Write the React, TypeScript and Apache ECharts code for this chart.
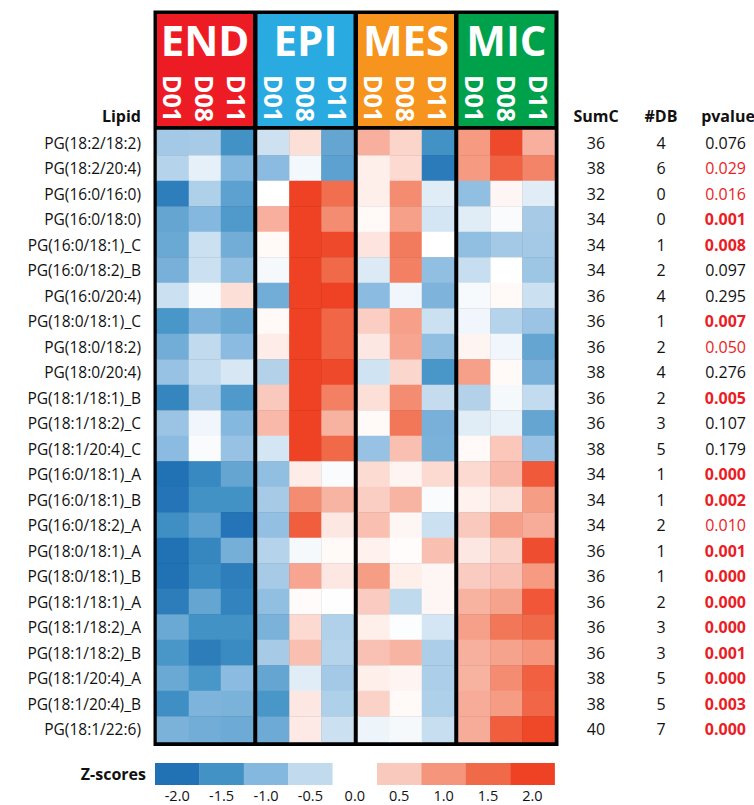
import React, { useEffect, useRef } from "react";
import * as echarts from "echarts";

const lipids = [
  "PG(18:2/18:2)", "PG(18:2/20:4)", "PG(16:0/16:0)", "PG(16:0/18:0)", "PG(16:0/18:1)_C",
  "PG(16:0/18:2)_B", "PG(16:0/20:4)", "PG(18:0/18:1)_C", "PG(18:0/18:2)", "PG(18:0/20:4)",
  "PG(18:1/18:1)_B", "PG(18:1/18:2)_C", "PG(18:1/20:4)_C", "PG(16:0/18:1)_A", "PG(16:0/18:1)_B",
  "PG(16:0/18:2)_A", "PG(18:0/18:1)_A", "PG(18:0/18:1)_B", "PG(18:1/18:1)_A", "PG(18:1/18:2)_A",
  "PG(18:1/18:2)_B", "PG(18:1/20:4)_A", "PG(18:1/20:4)_B", "PG(18:1/22:6)",
];
const groups = ["END", "EPI", "MES", "MIC"];
const groupColors = ["#ed1c24", "#29abe2", "#f7941d", "#00a14b"];
const timepoints = ["D01", "D08", "D11"];

// z-scores per row: [D01, D08, D11]
const endZ = [
  [-0.75, -0.72, -1.5], [-0.6, -0.2, -1.0], [-1.8, -0.65, -1.3], [-1.25, -1.0, -1.4],
  [-1.2, -0.42, -1.15], [-1.1, -0.42, -0.9], [-0.42, -0.05, 0.3], [-1.45, -1.05, -1.2],
  [-1.15, -0.5, -0.95], [-0.85, -0.48, -0.32], [-1.7, -0.72, -1.4], [-0.82, -0.12, -1.0],
  [-0.95, -0.05, -0.85], [-2.0, -1.65, -1.25], [-1.95, -1.5, -1.5], [-1.55, -1.3, -1.95],
  [-2.0, -1.68, -1.12], [-2.0, -1.6, -1.8], [-1.82, -1.25, -1.72], [-1.2, -1.5, -1.5],
  [-1.45, -1.82, -1.6], [-1.2, -1.45, -0.95], [-1.55, -1.05, -1.08], [-1.08, -1.15, -1.18],
];
const epiZ = [
  [-0.4, 0.3, -1.25], [-0.95, -0.1, -1.3], [0, 2, 1.45], [0.75, 2, 1.1],
  [0.05, 2, 1.9], [-0.08, 2, 1.5], [-1.15, 2, 2], [0.05, 2, 1.55],
  [0.18, 2, 1.55], [-0.62, 2, 1.9], [0.5, 2, 1.25], [0.65, 2, 0.72],
  [-0.35, 2, 1.5], [-0.9, 0.18, -0.05], [-0.72, 1.1, 0.7], [-0.88, 1.65, 0.22],
  [-0.6, -0.08, 0.05], [-0.72, 0.85, 0.22], [-0.9, 0.04, 0.01], [-1.08, 0.35, -0.63],
  [-0.72, 0.6, -0.6], [-1.25, -0.25, -0.75], [-1.45, 0.22, -0.65], [-1.18, 0.2, -0.42],
];
const mesZ = [
  [0.75, 0.4, -1.5], [0.15, 0.35, -1.85], [0.15, 1.1, -0.25], [0.05, 0.9, -0.35],
  [0.25, 1.3, 0], [-0.28, 1.25, -0.9], [-0.95, -0.12, -1.05], [0.45, 0.9, -0.42],
  [0.22, 0.85, -0.9], [-0.38, 0.38, -1.45], [0.3, 1.1, -0.47], [0.05, 1.35, -1.1],
  [-0.85, 0.6, -1.08], [0.33, 0.1, 0.35], [0.45, 0.7, -0.05], [0.6, 0.08, -0.42],
  [0.13, 0.03, 0.6], [0.92, 0.15, 0.08], [0.48, -0.52, 0.08], [0.15, -0.03, -0.35],
  [0.58, 0.7, -0.67], [0.15, 0.09, -0.67], [0.42, 0.05, -0.65], [-0.14, -0.08, -0.45],
];
const micZ = [
  [0.95, 1.9, 0.75], [0.95, 1.6, 1.2], [-0.9, 0.08, -0.25], [-0.25, -0.05, -0.72],
  [-0.9, -0.75, -0.75], [-0.45, 0, -0.8], [-0.07, 0.05, -0.42], [-0.12, -0.6, -0.82],
  [0.1, -0.12, -1.25], [0.9, 0.05, -1.1], [-0.62, -0.08, -0.48], [-0.25, -0.17, -1.25],
  [0.05, 0.52, -0.85], [0.35, 0.65, 1.7], [0.13, 0.28, 0.92], [0.5, 0.9, 0.78],
  [0.22, 0.42, 1.85], [0.48, 0.58, 0.95], [0.72, 0.87, 1.75], [0.9, 1.35, 1.5],
  [0.74, 0.87, 1.0], [0.72, 1.1, 1.62], [0.78, 0.93, 1.55], [0.78, 1.65, 1.92],
];
const groupZ = [endZ, epiZ, mesZ, micZ];

const sumC = [36, 38, 32, 34, 34, 34, 36, 36, 36, 38, 36, 36, 38, 34, 34, 34, 36, 36, 36, 36, 36, 38, 38, 40];
const dbCount = [4, 6, 0, 0, 1, 2, 4, 1, 2, 4, 2, 3, 5, 1, 1, 2, 1, 1, 2, 3, 3, 5, 5, 7];
const pvalues = [
  "0.076", "0.029", "0.016", "0.001", "0.008", "0.097", "0.295", "0.007", "0.050", "0.276",
  "0.005", "0.107", "0.179", "0.000", "0.002", "0.010", "0.001", "0.000", "0.000", "0.000",
  "0.001", "0.000", "0.003", "0.000",
];

const scaleColors = ["#2171b5", "#4292c6", "#85b8de", "#c1daee", "#ffffff", "#fac9bd", "#f5957c", "#f06a4a", "#ef4123"];
const legendTicks = ["-2.0", "-1.5", "-1.0", "-0.5", "0.0", "0.5", "1.0", "1.5", "2.0"];
const legendColors = ["#2171b5", "#4292c6", "#85b8de", "#c1daee", "#ffffff", "#fac9bd", "#f5957c", "#f06a4a", "#ef4123"];

const FONT = "'Open Sans', 'DejaVu Sans', sans-serif";
const RED = "#ec1c24";

export default function App() {
  const ref = useRef<HTMLDivElement>(null);
  useEffect(() => {
    document.body.style.margin = "0";
    if (!ref.current) return;
    const chart = echarts.init(ref.current, null, { renderer: "svg" });

    const gridLefts = [157, 257.5, 358, 458.5];
    const gridW = 96;
    const gridTop = 130;
    const gridH = 612;
    const rightEdge = gridLefts[3] + gridW;

    const grids = groups.map((_, i) => ({ left: gridLefts[i], top: gridTop, width: gridW, height: gridH }));
    const xAxes = groups.map((_, i) => ({
      type: "category",
      gridIndex: i,
      data: timepoints,
      position: "top",
      z: 10,
      axisLine: { show: false },
      axisTick: { show: false },
      splitLine: { show: false },
      axisLabel: { interval: 0, rotate: 90, margin: 8, color: "#fff", fontWeight: "bold", fontSize: 25, fontFamily: FONT },
    }));
    const mainY = groups.map((_, i) => ({
      type: "category",
      gridIndex: i,
      data: lipids,
      inverse: true,
      axisLine: { show: false },
      axisTick: { show: false },
      splitLine: { show: false },
      axisLabel: i === 0
        ? { show: true, interval: 0, margin: 16, color: "#111", fontSize: 15.5, fontFamily: FONT }
        : { show: false },
    }));
    const sideAxis = (margin: number, align: string, formatter: any, rich?: any) => ({
      type: "category",
      gridIndex: 3,
      position: "right",
      data: lipids,
      inverse: true,
      axisLine: { show: false },
      axisTick: { show: false },
      splitLine: { show: false },
      axisLabel: { interval: 0, margin, align, color: "#111", fontSize: 16, fontFamily: FONT, formatter, rich },
    });
    const pStyle = (p: string) => {
      const v = parseFloat(p);
      if (v < 0.01) return "b";
      if (v <= 0.05) return "r";
      return "k";
    };
    const rightY = [
      sideAxis(596 - rightEdge, "center", (_v: string, i: number) => String(sumC[i])),
      sideAxis(661 - rightEdge, "center", (_v: string, i: number) => String(dbCount[i])),
      sideAxis(746 - rightEdge, "right", (_v: string, i: number) => `{${pStyle(pvalues[i])}|${pvalues[i]}}`, {
        b: { color: RED, fontWeight: "bold", fontSize: 16, fontFamily: FONT },
        r: { color: RED, fontSize: 16, fontFamily: FONT },
        k: { color: "#111", fontSize: 16, fontFamily: FONT },
      }),
    ];

    const series = groups.map((_, g) => ({
      type: "heatmap",
      xAxisIndex: g,
      yAxisIndex: g,
      data: groupZ[g].flatMap((row, r) => row.map((v, c) => [c, r, v])),
      itemStyle: { borderWidth: 0 },
      emphasis: { disabled: true },
    }));

    const graphic: any[] = [
      { type: "rect", z: -10, shape: { x: 153.5, y: 10.5, width: 405, height: 735.5 }, style: { fill: "#000" } },
    ];
    groups.forEach((g, i) => {
      graphic.push({ type: "rect", z: -5, shape: { x: gridLefts[i], y: 14, width: gridW, height: 112 }, style: { fill: groupColors[i] } });
      graphic.push({
        type: "text", z: 5, x: gridLefts[i] + gridW / 2, y: 39,
        style: { text: g, fill: "#fff", fontSize: 42, fontWeight: "bold", fontFamily: FONT, align: "center", verticalAlign: "middle" },
      });
    });
    const headers = [
      { t: "Lipid", x: 141, a: "right" },
      { t: "SumC", x: 596, a: "center" },
      { t: "#DB", x: 661, a: "center" },
      { t: "pvalue", x: 728, a: "center" },
    ];
    headers.forEach((h) => {
      graphic.push({
        type: "text", x: h.x, y: 116,
        style: { text: h.t, fill: "#111", fontSize: 16, fontWeight: "bold", fontFamily: FONT, align: h.a, verticalAlign: "middle" },
      });
    });
    // colour key
    const lx = 155, slot = 44.4;
    graphic.push({
      type: "text", x: 146, y: 774,
      style: { text: "Z-scores", fill: "#111", fontSize: 16, fontWeight: "bold", fontFamily: FONT, align: "right", verticalAlign: "middle" },
    });
    legendTicks.forEach((t, i) => {
      graphic.push({ type: "rect", shape: { x: lx + i * slot, y: 763, width: slot + 0.3, height: 22 }, style: { fill: legendColors[i] } });
      graphic.push({
        type: "text", x: lx + (i + 0.5) * slot, y: 795,
        style: { text: t, fill: "#111", fontSize: 14.5, fontFamily: FONT, align: "center", verticalAlign: "middle" },
      });
    });

    chart.setOption({
      animation: false,
      backgroundColor: "#fff",
      grid: grids,
      xAxis: xAxes,
      yAxis: [...mainY, ...rightY],
      visualMap: {
        type: "continuous",
        show: false,
        min: -2,
        max: 2,
        seriesIndex: [0, 1, 2, 3],
        inRange: { color: scaleColors },
      },
      series,
      graphic,
    });
    return () => chart.dispose();
  }, []);
  return <div ref={ref} style={{ width: 754, height: 805 }} />;
}
